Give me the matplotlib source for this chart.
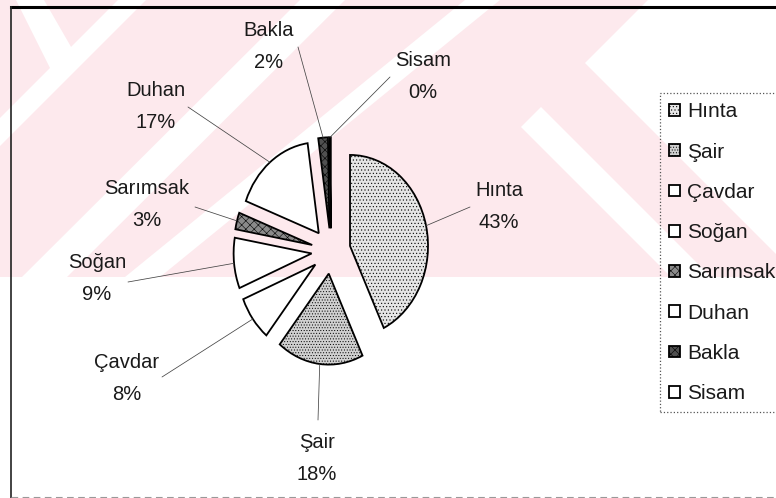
import matplotlib
matplotlib.use('Agg')
import matplotlib.pyplot as plt
from matplotlib.patches import Polygon, Rectangle
from matplotlib.lines import Line2D
from matplotlib.transforms import Affine2D
import numpy as np

plt.rcParams['font.family'] = ['Liberation Sans', 'DejaVu Sans']
plt.rcParams['hatch.linewidth'] = 0.4

# data (percent shares)
crops = ['Hınta', 'Şair', 'Çavdar', 'Soğan', 'Sarımsak', 'Duhan', 'Bakla', 'Sisam']
shares = [43, 18, 8, 9, 3, 17, 2, 0.3]

# styles
face = ['#e6e6e6', '#d0d0d0', 'white', 'white', '#8a8a8a', 'white', '#505050', 'white']
hatches = ['.....', '......', '', '', 'xxxx', '', 'xxxx', '']

# layout in pixels (from top-left of the 776x498 image)
W, H = 776, 498
cx, cy = 331, 251          # pie centre
rx, ry = 78, 91            # pie radii (chart is stretched vertically)
label_pos = [(499, 190), (317, 442), (127, 362), (97, 263),
             (147, 188), (156, 90), (269, 31), (423, 60)]
leader_start = [(470, 207), (318, 420), (162, 377), (128, 282),
                (195, 207), (188, 107), (298, 47), (390, 77)]
explode = 0.25

fig = plt.figure(figsize=(W / 100, H / 100), dpi=100)
pix = Affine2D().scale(1 / W, -1 / H).translate(0, 1) + fig.transFigure

# pink watermark band with white chevrons
pink = '#fde9ed'
fig.add_artist(Rectangle((0, 0), W, 277, transform=pix, facecolor=pink,
                         edgecolor='none', zorder=-5))
white_bands = [
    [(0, 118), (118, 0), (146, 0), (0, 146)],
    [(16, 0), (44, 0), (74, 52), (54, 76)],
    [(22, 277), (300, 0), (345, 0), (67, 277)],
    [(125, 277), (160, 277), (500, 0), (465, 0)],
    [(521, 127), (541, 107), (711, 277), (671, 277)],
    [(585, 63), (648, 0), (776, 0), (776, 254)],
]
for poly in white_bands:
    fig.add_artist(Polygon(poly, closed=True, transform=pix, facecolor='white',
                           edgecolor='none', zorder=-4))

# frame lines of the chart area
fig.add_artist(Line2D([11, 776], [7, 7], transform=pix, color='black', lw=2.2))
fig.add_artist(Line2D([11, 11], [7, 498], transform=pix, color='#222222', lw=1.2))
fig.add_artist(Line2D([11, 776], [497, 497], transform=pix, color='#999999',
                      lw=0.8, ls=(0, (6, 4))))

ax = fig.add_axes([0, 0, 1, 1])
ax.patch.set_alpha(0)
wedges, _ = ax.pie(shares, explode=[explode] * len(shares), startangle=90,
                   counterclock=False, colors=face, hatch=hatches,
                   wedgeprops=dict(edgecolor='black', linewidth=1.3))
ax.set_aspect('auto')
ax.set_xlim(-cx / rx, (W - cx) / rx)
ax.set_ylim(-(H - cy) / ry, cy / ry)
ax.axis('off')

# data labels with leader lines
total = sum(shares)
for w, name, v, (lx, ly), start in zip(wedges, crops, shares, label_pos, leader_start):
    mid = np.deg2rad((w.theta1 + w.theta2) / 2)
    end = ((1 + explode) * np.cos(mid), (1 + explode) * np.sin(mid))
    ax.annotate('', xy=end, xytext=start, textcoords=pix,
                arrowprops=dict(arrowstyle='-', color='#444444', lw=0.55,
                                shrinkA=0, shrinkB=0))
    fig.text(lx, ly, name, transform=pix, ha='center', va='center',
             fontsize=14.5, color='#1a1a1a')
    fig.text(lx, ly + 32, f'{v / total * 100:.0f}%', transform=pix,
             ha='center', va='center', fontsize=14.5, color='#1a1a1a')

leg = fig.legend(wedges, crops, loc='upper left', bbox_to_anchor=(660, 93),
                 bbox_transform=pix, borderaxespad=0, fontsize=15,
                 handlelength=0.5, handleheight=0.5, handletextpad=0.35,
                 labelspacing=1.02, borderpad=0.45, fancybox=False,
                 framealpha=1)
frame = leg.get_frame()
frame.set_edgecolor('#555555')
frame.set_linestyle(':')
frame.set_linewidth(0.9)
frame.set_facecolor('none')
for t in leg.get_texts():
    t.set_color('#1a1a1a')

fig.savefig('out.png', dpi=100)
